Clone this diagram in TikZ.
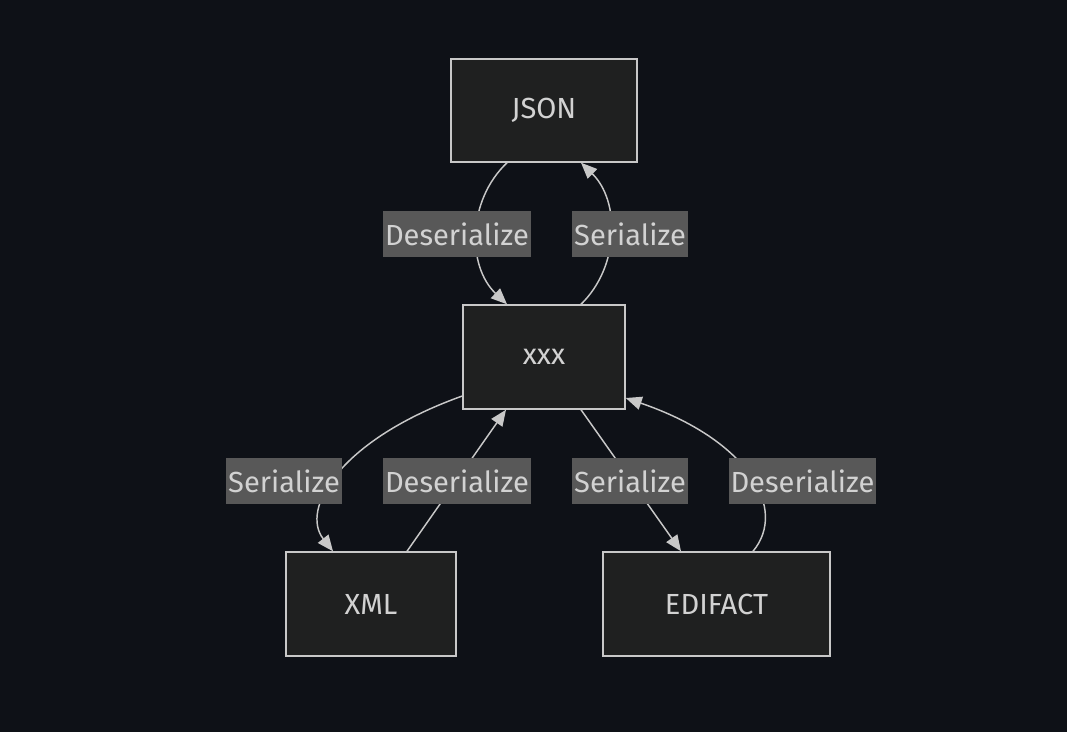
\documentclass[tikz,border=0pt]{standalone}
\usepackage{fontspec}
\setmainfont{Fira Sans}
\usetikzlibrary{arrows.meta, calc}
\definecolor{bgcol}{RGB}{14,17,23}
\definecolor{boxfill}{RGB}{31,32,32}
\definecolor{boxline}{RGB}{200,200,200}
\definecolor{lblfill}{RGB}{88,88,88}
\definecolor{txtcol}{RGB}{210,210,210}
\tikzset{x=0.75pt, y=-0.75pt, % one unit is one pixel of the reference
  every node/.style={font=\fontsize{21.8}{26}\selectfont, text=txtcol},
  format/.style={ % Sets the properties for each format box
    draw=boxline, line width=1.1pt, fill=boxfill,
    minimum height=78pt, inner sep=0pt},
  lbl/.style={ % Label on a transition
    fill=lblfill, minimum height=34.5pt, inner xsep=1.5pt, inner ysep=0pt},
  conv/.style={ % Sets the properties for each transition
    draw=boxline, line width=1.1pt,
    -{Triangle[length=12pt, width=10pt]}}}

\begin{document}
\begin{tikzpicture}
  \fill[bgcol] (0,0) rectangle (1067,732);
  \useasboundingbox (0,0) rectangle (1067,732);
  \node[format, minimum width=139.5pt, minimum height=77.25pt] (json) at (544,110.5) {JSON};
  \node[format, minimum width=121.5pt] (xxx) at (544,357) {xxx};
  \node[format, minimum width=127.5pt] (xml) at (371,604) {XML};
  \node[format, minimum width=170.25pt] (edi) at (716.5,604) {EDIFACT};
  \draw[conv] ($(json.south)+(-37,0)$) .. controls +(-40,38) and +(-40,-38) .. ($(xxx.north)+(-37,0)$);
  \draw[conv] ($(xxx.north)+(37,0)$) .. controls +(39,-38) and +(39,38) .. ($(json.south)+(37,0)$);
  \draw[conv] ($(xxx.west)+(0,39)$) .. controls +(-123,44) and +(-33,-42) .. ($(xml.north)+(-38,0)$);
  \draw[conv] ($(xml.north)+(36,0)$) -- ($(xxx.south)+(-38,0)$);
  \draw[conv] ($(xxx.south)+(37,0)$) -- ($(edi.north)+(-35.5,0)$);
  \draw[conv] ($(edi.north)+(36.5,0)$) .. controls +(35,-42) and +(123,42) .. ($(xxx.east)+(0,41)$);
  \node[lbl] (desJson) at (457,234) {Deserialize};
  \node[lbl] (serJson) at (630,234) {Serialize};
  \node[lbl] (serXml) at (284,481) {Serialize};
  \node[lbl] (desXml) at (457,481) {Deserialize};
  \node[lbl] (serEdi) at (630,481) {Serialize};
  \node[lbl] (desEdi) at (802.5,481) {Deserialize};
\end{tikzpicture}
\end{document}
